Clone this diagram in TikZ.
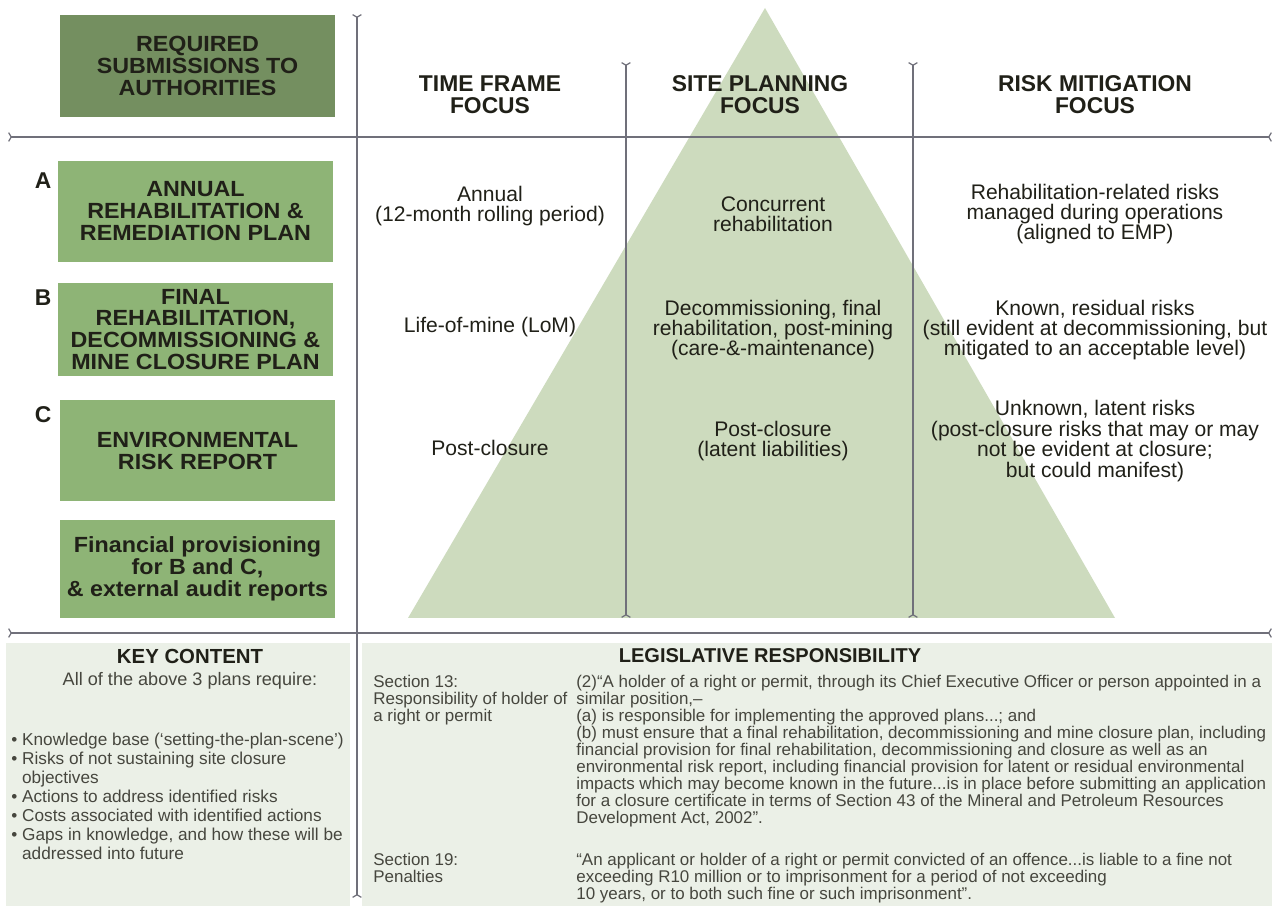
\documentclass[tikz,border=0pt]{standalone}
\usepackage{fontspec}
\setmainfont{Liberation Sans}
\newfontfamily\widesans[FakeStretch=1.06]{Liberation Sans}
\usetikzlibrary{arrows.meta}

\definecolor{darkgreen}{RGB}{116,143,96}
\definecolor{midgreen}{RGB}{142,180,118}
\definecolor{sage}{RGB}{205,219,190}
\definecolor{panel}{RGB}{235,240,231}
\definecolor{rule}{RGB}{112,112,122}
\definecolor{ink}{RGB}{32,32,24}
\definecolor{softink}{RGB}{70,70,62}

\tikzset{
  plan/.style={rectangle, fill=midgreen, minimum width=5.5cm, align=center, text=ink,
    font=\widesans\fontsize{12.5pt}{12.5pt}\selectfont\bfseries},
  heading/.style={align=center, text=ink, font=\fontsize{13pt}{12.6pt}\selectfont\bfseries},
  cell/.style={align=center, text=ink, font=\fontsize{12pt}{11.6pt}\selectfont},
  letter/.style={text=ink, font=\fontsize{13pt}{13pt}\selectfont\bfseries},
  legal/.style={align=left, text=softink, inner sep=0pt, font=\fontsize{9.65pt}{9.65pt}\selectfont},
  separator/.style={draw=rule, line width=0.7pt,
    arrows={Straight Barb[reversed,length=1.5pt,width=5pt]-Straight Barb[reversed,length=1.5pt,width=5pt]}}
}

\begin{document}
\begin{tikzpicture}[x=0.02cm, y=-0.02cm]
  \useasboundingbox (0, 0) rectangle (1276, 908);

  % pyramid behind the three columns
  \fill[sage] (765, 8) -- (1115, 618) -- (408, 618) -- cycle;

  % bottom panels
  \fill[panel] (6, 643) rectangle (350, 906);
  \fill[panel] (362, 643) rectangle (1272, 906);

  % grid lines
  \draw[separator] (8, 137) -- (1272, 137);
  \draw[separator] (8, 633) -- (1272, 633);
  \draw[separator] (357, 14) -- (357, 898);
  \draw[separator] (626, 62) -- (626, 618);
  \draw[separator] (913, 62) -- (913, 618);

  % submissions
  \node (required) [plan, fill=darkgreen, minimum height=2.04cm] at (197.5, 66) {REQUIRED\\SUBMISSIONS TO\\AUTHORITIES};
  \node (annual) [plan, minimum height=2.02cm] at (195.5, 211.5) {ANNUAL\\REHABILITATION \&\\REMEDIATION PLAN};
  \node (final) [plan, minimum height=1.86cm] at (195.5, 329.5) {FINAL\\REHABILITATION,\\DECOMMISSIONING \&\\MINE CLOSURE PLAN};
  \node (envrisk) [plan, minimum height=2.02cm] at (197.5, 450.5) {ENVIRONMENTAL\\RISK REPORT};
  \node (finprov) [plan, minimum height=1.96cm] at (197.5, 569) {Financial provisioning\\for B and C,\\\& external audit reports};

  \node (labelA) [letter] at (43, 181) {A};
  \node (labelB) [letter] at (43, 298) {B};
  \node (labelC) [letter] at (43, 415) {C};

  % column headings
  \node (timeframe) [heading] at (490, 95) {TIME FRAME\\FOCUS};
  \node (siteplan) [heading] at (760, 95) {SITE PLANNING\\FOCUS};
  \node (riskmit) [heading] at (1095, 95) {RISK MITIGATION\\FOCUS};

  % row A
  \node (timeA) [cell] at (490, 206) {Annual\\(12-month rolling period)};
  \node (siteA) [cell] at (773, 214) {Concurrent\\rehabilitation};
  \node (riskA) [cell] at (1095, 214) {Rehabilitation-related risks\\managed during operations\\(aligned to EMP)};

  % row B
  \node (timeB) [cell] at (490, 327) {Life-of-mine (LoM)};
  \node (siteB) [cell] at (773, 330) {Decommissioning, final\\rehabilitation, post-mining\\(care-\&-maintenance)};
  \node (riskB) [cell] at (1095, 330) {Known, residual risks\\(still evident at decommissioning, but\\mitigated to an acceptable level)};

  % row C
  \node (timeC) [cell] at (490, 448) {Post-closure};
  \node (siteC) [cell] at (773, 441) {Post-closure\\(latent liabilities)};
  \node (riskC) [cell] at (1095, 441) {Unknown, latent risks\\(post-closure risks that may or may\\not be evident at closure;\\but could manifest)};

  % key content
  \node (keytitle) [text=ink, font=\fontsize{11.6pt}{11.6pt}\selectfont\bfseries] at (190, 656) {KEY CONTENT};
  \node (keyintro) [text=softink, font=\fontsize{10.3pt}{10.3pt}\selectfont] at (190, 681) {All of the above 3 plans require:};
  \node (keylist) [legal, anchor=north west, font=\fontsize{9.8pt}{10.8pt}\selectfont] at (11, 733)
    {\textbullet\ Knowledge base (‘setting-the-plan-scene’)\\
     \textbullet\ Risks of not sustaining site closure\\
     \hphantom{\textbullet\ }objectives\\
     \textbullet\ Actions to address identified risks\\
     \textbullet\ Costs associated with identified actions\\
     \textbullet\ Gaps in knowledge, and how these will be\\
     \hphantom{\textbullet\ }addressed into future};

  % legislative responsibility
  \node (legtitle) [text=ink, font=\fontsize{11.4pt}{11.4pt}\selectfont\bfseries] at (770, 656) {LEGISLATIVE RESPONSIBILITY};
  \node (sec13) [legal, anchor=north west] at (373, 675) {Section 13:\\Responsibility of holder of\\a right or permit};
  \node (sec13text) [legal, anchor=north west] at (576, 675)
    {(2)“A holder of a right or permit, through its Chief Executive Officer or person appointed in a\\
     similar position,–\\
     (a) is responsible for implementing the approved plans...; and\\
     (b) must ensure that a final rehabilitation, decommissioning and mine closure plan, including\\
     financial provision for final rehabilitation, decommissioning and closure as well as an\\
     environmental risk report, including financial provision for latent or residual environmental\\
     impacts which may become known in the future...is in place before submitting an application\\
     for a closure certificate in terms of Section 43 of the Mineral and Petroleum Resources\\
     Development Act, 2002”.};
  \node (sec19) [legal, anchor=north west] at (373, 853) {Section 19:\\Penalties};
  \node (sec19text) [legal, anchor=north west] at (576, 853)
    {“An applicant or holder of a right or permit convicted of an offence...is liable to a fine not\\
     exceeding R10 million or to imprisonment for a period of not exceeding\\
     10 years, or to both such fine or such imprisonment”.};
\end{tikzpicture}
\end{document}
